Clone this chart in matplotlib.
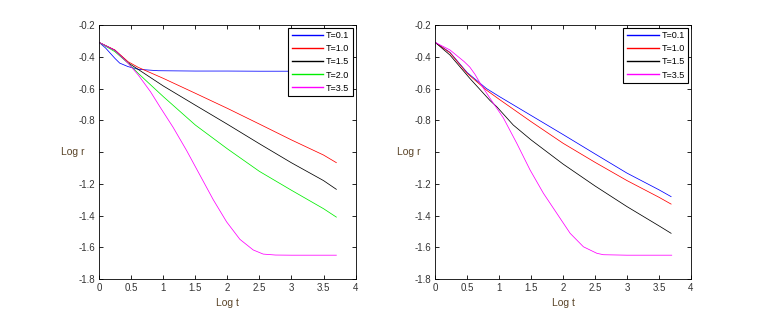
import numpy as np
import matplotlib
matplotlib.use('Agg')
import matplotlib.pyplot as plt

# dados (Log t, Log r) - painel esquerdo
t_a01 = [0, 0.1, 0.245, 0.32, 0.45, 0.61, 0.92, 1.5, 2.0, 2.5, 3.0, 3.5, 3.7]
r_a01 = [-0.31, -0.345, -0.41, -0.44, -0.462, -0.479, -0.488, -0.49, -0.49, -0.491, -0.491, -0.492, -0.492]

t_a = [0, 0.245, 0.45, 0.61, 1.0, 1.5, 2.0, 2.5, 3.0, 3.5, 3.7]
r_a10 = [-0.31, -0.357, -0.431, -0.467, -0.536, -0.63, -0.725, -0.824, -0.924, -1.019, -1.067]
r_a15 = [-0.31, -0.36, -0.438, -0.48, -0.584, -0.705, -0.825, -0.948, -1.068, -1.18, -1.235]
r_a20 = [-0.31, -0.368, -0.44, -0.505, -0.651, -0.83, -0.98, -1.122, -1.241, -1.357, -1.41]

t_a35 = [0, 0.245, 0.45, 0.61, 0.8, 0.947, 1.154, 1.363, 1.571, 1.779, 1.988, 2.195, 2.403, 2.559, 2.75, 3.0, 3.7]
r_a35 = [-0.31, -0.36, -0.44, -0.515, -0.62, -0.715, -0.845, -0.99, -1.145, -1.3, -1.44, -1.55, -1.617, -1.643, -1.649, -1.65, -1.65]

# painel direito
t_b = [0, 0.229, 0.5, 0.8, 1.0, 1.5, 2.0, 2.5, 3.0, 3.5, 3.69]
r_b01 = [-0.31, -0.372, -0.5, -0.6, -0.65, -0.77, -0.89, -1.012, -1.133, -1.238, -1.281]
r_b10 = [-0.31, -0.375, -0.505, -0.61, -0.668, -0.809, -0.945, -1.065, -1.18, -1.285, -1.328]

t_b15 = [0, 0.229, 0.54, 0.857, 0.96, 1.22, 1.5, 2.0, 2.5, 3.0, 3.5, 3.69]
r_b15 = [-0.31, -0.389, -0.536, -0.676, -0.714, -0.83, -0.924, -1.076, -1.214, -1.344, -1.465, -1.512]

t_b35 = [0, 0.229, 0.45, 0.54, 0.62, 0.7, 0.857, 1.065, 1.275, 1.483, 1.692, 1.901, 2.11, 2.318, 2.528, 2.631, 3.0, 3.7]
r_b35 = [-0.31, -0.357, -0.43, -0.465, -0.51, -0.565, -0.662, -0.785, -0.945, -1.113, -1.26, -1.386, -1.512, -1.597, -1.638, -1.647, -1.65, -1.65]

xticks = np.arange(0, 4.01, 0.5)
xlabels = ['0', '0.5', '1', '1.5', '2', '2.5', '3', '3.5', '4']
yticks = np.arange(-1.8, -0.19, 0.2)
ylabels = ['-1.8', '-1.6', '-1.4', '-1.2', '', '-0.8', '-0.6', '-0.4', '-0.2']

plt.rcParams['font.family'] = ['Liberation Sans', 'DejaVu Sans']
plt.rcParams['font.size'] = 7

fig = plt.figure(figsize=(7.63, 3.13), dpi=100)
ax1 = fig.add_axes([0.130, 0.1086, 0.336, 0.8115])
ax2 = fig.add_axes([0.5705, 0.1086, 0.335, 0.8115])

lw = 0.55
ax1.plot(t_a01, r_a01, color='#0000ff', lw=lw, label='T=0.1')
ax1.plot(t_a, r_a10, color='#ff0000', lw=lw, label='T=1.0')
ax1.plot(t_a, r_a15, color='#000000', lw=lw, label='T=1.5')
ax1.plot(t_a, r_a20, color='#00ee00', lw=lw, label='T=2.0')
ax1.plot(t_a35, r_a35, color='#ff00ff', lw=lw, label='T=3.5')

ax2.plot(t_b, r_b01, color='#0000ff', lw=lw, label='T=0.1')
ax2.plot(t_b, r_b10, color='#ff0000', lw=lw, label='T=1.0')
ax2.plot(t_b15, r_b15, color='#000000', lw=lw, label='T=1.5')
ax2.plot(t_b35, r_b35, color='#ff00ff', lw=lw, label='T=3.5')

for ax in (ax1, ax2):
    ax.set_xlim(0, 4)
    ax.set_ylim(-1.8, -0.2)
    ax.set_xticks(xticks)
    ax.set_xticklabels(xlabels)
    ax.set_yticks(yticks)
    ax.set_yticklabels(ylabels)
    ax.tick_params(direction='in', top=True, right=True, length=3, width=0.6,
                   labelsize=7, color='k', labelcolor='#333333', pad=3)
    for s in ax.spines.values():
        s.set_linewidth(0.6)
    ax.set_xlabel('Log t', fontsize=7.5, color='#5a4428', va='center')
    ax.xaxis.set_label_coords(0.5, -0.094)
    ax.set_ylabel('Log r', fontsize=7.5, color='#5a4428', rotation=0, ha='right', va='center')
    ax.yaxis.set_label_coords(-0.056, 0.5)
    leg = ax.legend(loc='upper right', fontsize=6.5, fancybox=False, framealpha=1,
                    edgecolor='k', handlelength=3.5, borderaxespad=0.3,
                    labelspacing=0.45, handletextpad=0.3, borderpad=0.4)
    leg.get_frame().set_linewidth(0.8)
    for h in leg.get_lines():
        h.set_linewidth(1.0)

fig.savefig('out.png', dpi=100)
